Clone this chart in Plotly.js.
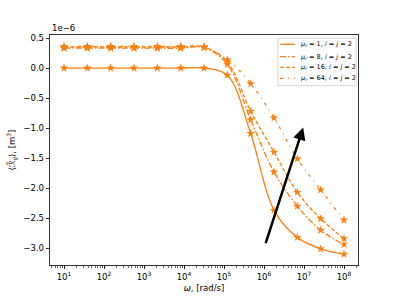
<!DOCTYPE html>
<html><head><meta charset="utf-8">
<script src="https://cdn.plot.ly/plotly-3.0.1.min.js"></script>
<style>body{margin:0;padding:0;background:#fff}</style>
</head><body>
<div id="chart" style="width:399px;height:299px"></div>
<script>
// angular frequency (rad/s), log10 values of the marker positions
const logOmega = [1, 1.583, 2.167, 2.75, 3.333, 3.917, 4.5, 5.083, 5.667, 6.25, 6.833, 7.417, 8.0];
// <R_ij> in units of 1e-6 m^3
const mu1  = [0.0, 0.0, 0.0, 0.0, 0.0, 0.0, 0.0, -0.12, -1.09, -2.37, -2.82, -3.01, -3.10];
const mu8  = [0.33, 0.33, 0.33, 0.33, 0.33, 0.33, 0.34, 0.06, -0.86, -1.73, -2.30, -2.70, -2.94];
const mu16 = [0.35, 0.35, 0.35, 0.35, 0.35, 0.35, 0.35, 0.10, -0.72, -1.40, -2.07, -2.51, -2.84];
const mu64 = [0.36, 0.36, 0.36, 0.36, 0.36, 0.36, 0.35, 0.14, -0.26, -0.83, -1.51, -2.03, -2.53];
const seriesNames = ['<i>μ<sub>r</sub></i> = 1, <i>i</i> = <i>j</i> = 2',
                     '<i>μ<sub>r</sub></i> = 8, <i>i</i> = <i>j</i> = 2',
                     '<i>μ<sub>r</sub></i> = 16, <i>i</i> = <i>j</i> = 2',
                     '<i>μ<sub>r</sub></i> = 64, <i>i</i> = <i>j</i> = 2'];
const yTickVals = [0.5, 0.0, -0.5, -1.0, -1.5, -2.0, -2.5, -3.0];
const yTickText = ['0.5', '0.0', '−0.5', '−1.0', '−1.5', '−2.0', '−2.5', '−3.0'];
const xTickVals = [1e1, 1e2, 1e3, 1e4, 1e5, 1e6, 1e7, 1e8];
const xTickText = ['10<sup>1</sup>', '10<sup>2</sup>', '10<sup>3</sup>', '10<sup>4</sup>', '10<sup>5</sup>', '10<sup>6</sup>', '10<sup>7</sup>', '10<sup>8</sup>'];
// arrow (log10 omega, value) from tail to head
const arrowTail = [6.03, -2.94];
const arrowHead = [6.98, -0.99];

const omega = logOmega.map(v => Math.pow(10, v));
const color = '#ff7f0e';
const dashes = ['solid', '6px,2px,1.5px,2px', '4px,2px', '3px,5px,1px,5px'];
const ys = [mu1, mu8, mu16, mu64];
const traces = ys.map((y, i) => ({
  x: omega, y: y, name: seriesNames[i], type: 'scatter', mode: 'lines+markers', showlegend: false,
  line: {color: color, width: 1.3, dash: dashes[i], shape: 'spline', smoothing: 1},
  marker: {symbol: 'star', size: 6.5, color: color}
}));

const font = {family: 'DejaVu Sans', size: 8.5, color: '#000'};

// compact legend box (paper coordinates)
const legBox = {x0: 0.740, x1: 0.994, y0: 0.780, y1: 0.986};
const legRows = [0.9596, 0.9057, 0.8596, 0.8117];
const legLineX = [0.747, 0.795];
const legTextX = 0.804;
const shapes = [{type: 'rect', xref: 'paper', yref: 'paper', x0: legBox.x0, x1: legBox.x1, y0: legBox.y0, y1: legBox.y1,
  line: {color: '#cccccc', width: 0.8}, fillcolor: 'rgba(255,255,255,0.8)', layer: 'above'}];
const annotations = [];
seriesNames.forEach((nm, i) => {
  shapes.push({type: 'line', xref: 'paper', yref: 'paper', x0: legLineX[0], x1: legLineX[1], y0: legRows[i], y1: legRows[i],
    line: {color: color, width: 1.3, dash: dashes[i]}, layer: 'above'});
  annotations.push({xref: 'paper', yref: 'paper', x: legTextX, y: legRows[i], xanchor: 'left', yanchor: 'middle',
    text: nm, showarrow: false, font: {family: 'DejaVu Sans', size: 6.5, color: '#000'}});
});
annotations.push({xref: 'paper', yref: 'paper', x: 0, y: 1, xanchor: 'left', yanchor: 'bottom',
  text: '1e−6', showarrow: false, font: font});
annotations.push({xref: 'x', yref: 'y', axref: 'x', ayref: 'y',
  x: arrowHead[0], y: arrowHead[1], ax: arrowTail[0], ay: arrowTail[1],
  text: '', showarrow: true, arrowhead: 2, arrowsize: 1, arrowwidth: 2.5, arrowcolor: '#000'});

const layout = {
  width: 399, height: 299,
  margin: {l: 50, r: 41, t: 35, b: 34},
  paper_bgcolor: '#fff', plot_bgcolor: '#fff',
  font: font,
  showlegend: false,
  xaxis: {type: 'log', range: [0.65, 8.35], tickvals: xTickVals, ticktext: xTickText,
    showline: true, mirror: true, linecolor: '#000', linewidth: 0.8,
    ticks: 'outside', ticklen: 3.5, tickwidth: 0.8, tickcolor: '#000', showgrid: false, zeroline: false,
    minor: {ticks: 'outside', ticklen: 2, tickwidth: 0.6, tickcolor: '#000', dtick: 'D1', showgrid: false},
    title: {text: '<i>ω</i>, [rad/s]', font: font, standoff: 4}},
  yaxis: {range: [-3.28, 0.55], tickvals: yTickVals, ticktext: yTickText,
    showline: true, mirror: true, linecolor: '#000', linewidth: 0.8,
    ticks: 'outside', ticklen: 3.5, tickwidth: 0.8, tickcolor: '#000', showgrid: false, zeroline: false,
    title: {text: '⟨ℛ̃<sub><i>ij</i></sub>⟩, [m<sup>3</sup>]', font: font, standoff: 6}},
  shapes: shapes,
  annotations: annotations
};
Plotly.newPlot('chart', traces, layout, {displayModeBar: false, staticPlot: true});
</script>
</body></html>
